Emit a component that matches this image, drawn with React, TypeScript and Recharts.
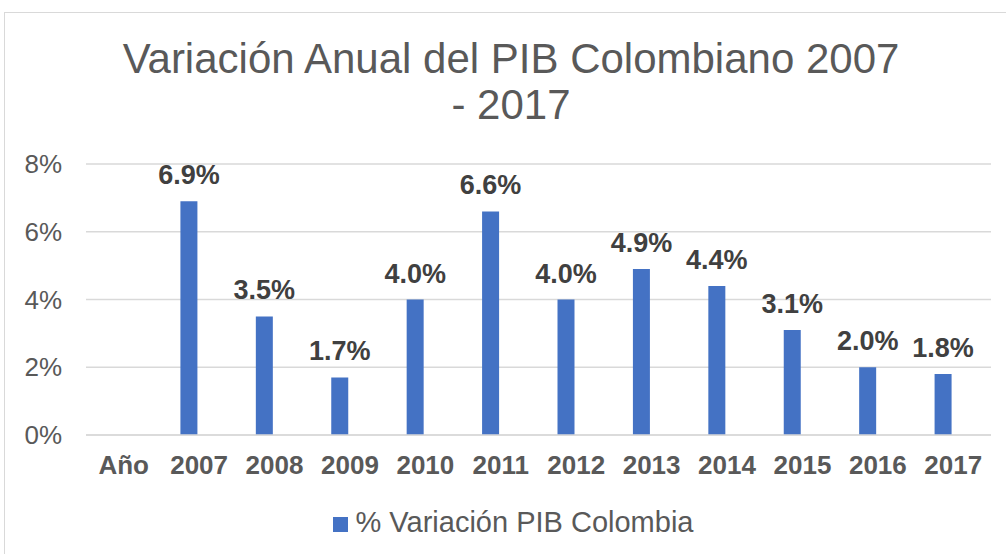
import React from "react";
import { BarChart, Bar, XAxis, YAxis, CartesianGrid, Legend, LabelList } from "recharts";

const categories = ["Año", "2007", "2008", "2009", "2010", "2011", "2012", "2013", "2014", "2015", "2016", "2017"];
const variation: (number | null)[] = [null, 6.9, 3.5, 1.7, 4.0, 6.6, 4.0, 4.9, 4.4, 3.1, 2.0, 1.8];
const yTicks = [0, 2, 4, 6, 8];
const seriesName = "% Variación PIB Colombia";
const titleLines = ["Variación Anual del PIB Colombiano 2007", "- 2017"];

const data = categories.map((c, i) => ({ cat: c, value: variation[i], blank: null }));

const FONT = '"Liberation Sans", Arial, sans-serif';
const TEXT = "#595959";

export default function App() {
  return (
    <div style={{ position: "absolute", left: 0, top: 0, width: 1006, height: 554, overflow: "hidden", background: "#fff", fontFamily: FONT }}>
      <div style={{ position: "absolute", left: 4, top: 12, width: 1100, height: 700, border: "1px solid #d9d9d9" }} />
      <div style={{ position: "absolute", left: 0, top: 36, width: 1022, textAlign: "center", fontSize: 42, lineHeight: "46px", color: TEXT }}>
        {titleLines.map((t) => (
          <div key={t}>{t}</div>
        ))}
      </div>
      <div style={{ position: "absolute", left: 0, top: 0 }}>
        <BarChart width={1006} height={554} data={data} margin={{ top: 164, right: 15, left: 6, bottom: 16 }} barGap={3} barSize={17}>
          <CartesianGrid vertical={false} stroke="#d9d9d9" strokeWidth={1.5} />
          <XAxis
            dataKey="cat"
            axisLine={{ stroke: "#d9d9d9", strokeWidth: 1.5 }}
            tickLine={false}
            tickSize={0}
            tickMargin={21}
            height={71}
            interval={0}
            tick={{ fontSize: 26, fontWeight: "bold", fill: TEXT, fontFamily: FONT }}
          />
          <YAxis
            domain={[0, 8]}
            ticks={yTicks}
            width={80}
            axisLine={false}
            tickLine={false}
            tickSize={0}
            tickMargin={24}
            tickFormatter={(v: number) => `${v}%`}
            tick={{ fontSize: 26, fill: TEXT, fontFamily: FONT }}
          />
          <Legend
            verticalAlign="bottom"
            align="center"
            iconType="square"
            iconSize={15}
            wrapperStyle={{ left: 15, width: 1006, fontSize: 29, lineHeight: "32px", fontFamily: FONT }}
            formatter={(v: string) => <span style={{ color: TEXT, marginLeft: 4 }}>{v}</span>}
          />
          <Bar dataKey="value" name={seriesName} fill="#4472C4" isAnimationActive={false}>
            <LabelList
              dataKey="value"
              position="top"
              offset={17}
              formatter={(v: any) => (v == null ? "" : `${Number(v).toFixed(1)}%`)}
              style={{ fontSize: 27, fontWeight: "bold", fill: "#404040", fontFamily: FONT }}
            />
          </Bar>
          <Bar dataKey="blank" name="blank" fill="transparent" legendType="none" isAnimationActive={false} />
        </BarChart>
      </div>
    </div>
  );
}
